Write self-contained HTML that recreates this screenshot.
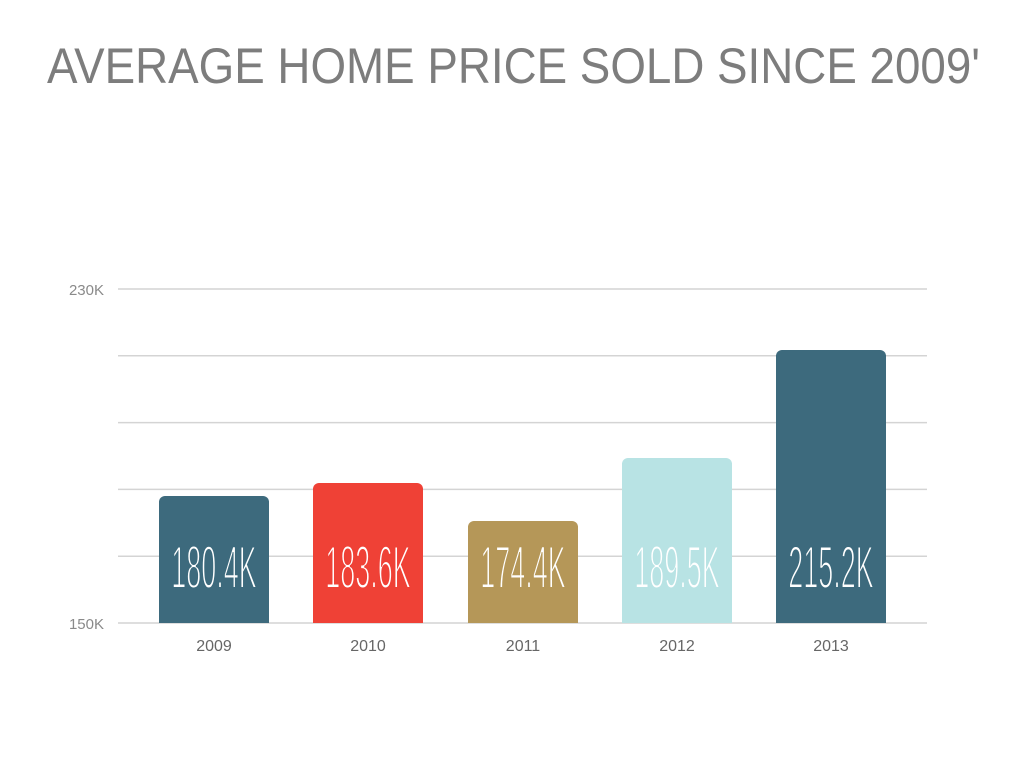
<!DOCTYPE html>
<html><head><meta charset="utf-8"><style>
html,body{margin:0;padding:0;background:#fff;}
svg{display:block;}
</style></head><body>
<svg width="1024" height="768" viewBox="0 0 1024 768" xmlns="http://www.w3.org/2000/svg">
<rect width="1024" height="768" fill="#fff"/>
<text x="47" y="83" font-family="Liberation Sans, sans-serif" font-size="50" fill="#7d7d7d" textLength="933" lengthAdjust="spacingAndGlyphs">AVERAGE HOME PRICE SOLD SINCE 2009'</text>
<g stroke="#d4d4d4" stroke-width="1.5">
<line x1="118" x2="927" y1="289" y2="289"/>
<line x1="118" x2="927" y1="355.8" y2="355.8"/>
<line x1="118" x2="927" y1="422.6" y2="422.6"/>
<line x1="118" x2="927" y1="489.4" y2="489.4"/>
<line x1="118" x2="927" y1="556.2" y2="556.2"/>
<line x1="118" x2="927" y1="623" y2="623"/>
</g>
<g font-family="Liberation Sans, sans-serif" font-size="15" fill="#8a8a8a" text-anchor="end">
<text x="104" y="295">230K</text>
<text x="104" y="629">150K</text>
</g>
<path d="M159 623V502a6 6 0 0 1 6-6h98a6 6 0 0 1 6 6V623Z" fill="#3d6a7d"/>
<path d="M313 623V489a6 6 0 0 1 6-6h98a6 6 0 0 1 6 6V623Z" fill="#ef4136"/>
<path d="M468 623V527a6 6 0 0 1 6-6h98a6 6 0 0 1 6 6V623Z" fill="#b59758"/>
<path d="M622 623V464a6 6 0 0 1 6-6h98a6 6 0 0 1 6 6V623Z" fill="#b8e3e4"/>
<path d="M776 623V356a6 6 0 0 1 6-6h98a6 6 0 0 1 6 6V623Z" fill="#3d6a7d"/>
<g font-family="Liberation Sans, sans-serif" font-size="60" fill="#fff" text-anchor="middle" stroke-width="2">
<text transform="translate(214 588) scale(0.45 1)" stroke="#3d6a7d">180.4K</text>
<text transform="translate(368 588) scale(0.45 1)" stroke="#ef4136">183.6K</text>
<text transform="translate(523 588) scale(0.45 1)" stroke="#b59758">174.4K</text>
<text transform="translate(677 588) scale(0.45 1)" stroke="#b8e3e4">189.5K</text>
<text transform="translate(831 588) scale(0.45 1)" stroke="#3d6a7d">215.2K</text>
</g>
<g font-family="Liberation Sans, sans-serif" font-size="16" fill="#666" text-anchor="middle">
<text x="214" y="651">2009</text>
<text x="368" y="651">2010</text>
<text x="523" y="651">2011</text>
<text x="677" y="651">2012</text>
<text x="831" y="651">2013</text>
</g>
</svg>
</body></html>
